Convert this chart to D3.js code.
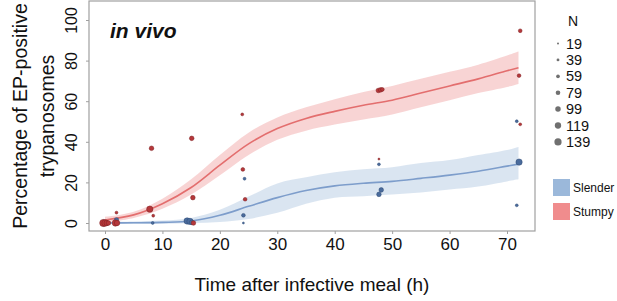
<!DOCTYPE html>
<html><head><meta charset="utf-8">
<script src="https://cdn.jsdelivr.net/npm/d3@7"></script>
<style>body{margin:0;background:#fff}svg{display:block}text{font-family:"Liberation Sans",Arial,Helvetica,sans-serif;fill:#111}</style>
</head><body><svg id="c" width="617" height="301"></svg>
<script>
// ---- data ----
const xTicks = [0, 10, 20, 30, 40, 50, 60, 70];
const yTicks = [0, 20, 40, 60, 80, 100];
const sizeLegend = [19, 39, 59, 79, 99, 119, 139];
const groups = ["Slender", "Stumpy"];

// fitted curves (time, fit, lower, upper)
const stumpyFitT  = [0, 5, 10, 15, 20, 25, 30, 35, 40, 45, 50, 55, 60, 65, 70, 72];
const stumpyFit   = [1.5, 4, 9.5, 17.5, 28.5, 39, 46.5, 51.5, 55, 58, 60.5, 64, 67.5, 71, 75, 76.5];
const stumpyLo    = [0.3, 2.5, 7, 14, 23.5, 33.5, 41, 45.5, 48.5, 51, 53.5, 57, 60.5, 64, 67, 68.5];
const stumpyHi    = [3, 5.5, 12, 21.5, 33.5, 44.5, 52, 57, 61, 64.5, 67.5, 71, 74.5, 78, 82.5, 84.5];

const slenderFitT = [0, 5, 10, 15, 20, 25, 30, 35, 40, 45, 50, 55, 60, 65, 70, 72];
const slenderFit  = [0, 0.1, 0.3, 1, 3.8, 8.2, 12.5, 16, 18.3, 19.6, 20.5, 22, 23.6, 25.5, 28, 29];
const slenderLo   = [-0.5, -0.5, -0.4, 0, 0.5, 2, 5, 9.5, 12.5, 13.2, 14, 15, 16.5, 18, 20.5, 21.5];
const slenderHi   = [0.5, 0.8, 1.2, 2.5, 6.5, 13, 19.5, 22.5, 25, 26.5, 27.5, 29.5, 31, 33.5, 36, 37.5];

// observed points
const stumpyT = [-0.3, 0, 0.3, 0.6, 1.8, 2.1, 2, 7.8, 8.1, 8.4, 15.1, 15.3, 15.4, 23.9, 24, 24.4, 47.6, 48, 48.3, 47.7, 72.3, 72.1, 72.3];
const stumpyV = [0, 0, 0, 0, 0, 0, 5.1, 6.8, 36.8, 3.6, 41.7, 12.5, 0, 53.5, 26.4, 11.7, 65.3, 65.6, 65.8, 31.5, 94.7, 72.6, 48.6];
const stumpyN = [139, 119, 99, 79, 119, 99, 39, 119, 79, 39, 79, 79, 79, 39, 59, 59, 79, 79, 59, 19, 59, 59, 39];

const slenderT = [-0.2, 0.2, 2, 2.1, 8.3, 14.3, 14.8, 15.1, 24.1, 24.1, 24.3, 47.7, 48.1, 47.7, 71.7, 71.7, 72.1];
const slenderV = [0, 0, 1.5, 0, 0, 1, 0.8, 0.3, 3.8, 0, 21.8, 28.9, 16.3, 14.1, 50.1, 8.7, 30];
const slenderN = [119, 99, 79, 59, 39, 119, 119, 79, 59, 19, 39, 39, 79, 79, 39, 39, 119];

// ---- drawing ----
const svg = d3.select("#c");
const L = 89, R = 535, T = 1, B = 231;
const x = d3.scaleLinear().domain([0, 70]).range([105, 507]);
const y = d3.scaleLinear().domain([0, 100]).range([223, 20]);
const r = d3.scaleLinear().domain([19, 139]).range([1.0, 3.6]);

const col = {
  Slender: {band: "#d6e2f0", line: "#7d9dcb", pt: "#4a6b9c", ptStroke: "#2f4a74", key: "#9bb8da"},
  Stumpy:  {band: "#f7cfcf", line: "#e36e6e", pt: "#b5373a", ptStroke: "#7d2022", key: "#f08c8d"}
};

function curveData(t, f, lo, hi) { return t.map((d, i) => ({t: d, f: f[i], lo: lo[i], hi: hi[i]})); }
const fits = {
  Slender: curveData(slenderFitT, slenderFit, slenderLo, slenderHi),
  Stumpy: curveData(stumpyFitT, stumpyFit, stumpyLo, stumpyHi)
};
const crv = d3.curveCatmullRom.alpha(0.5);
const area = d3.area().x(d => x(d.t)).y0(d => y(d.lo)).y1(d => y(d.hi)).curve(crv);
const line = d3.line().x(d => x(d.t)).y(d => y(d.f)).curve(crv);

const plot = svg.append("g");
groups.forEach(g => {
  plot.append("path").datum(fits[g]).attr("d", area).attr("fill", col[g].band).attr("opacity", 0.9);
});
groups.forEach(g => {
  plot.append("path").datum(fits[g]).attr("d", line).attr("fill", "none").attr("stroke", col[g].line).attr("stroke-width", 1.6);
});

function pts(g, T_, V_, N_) {
  const data = T_.map((t, i) => ({t, v: V_[i], n: N_[i]}));
  plot.append("g").selectAll("circle").data(data).join("circle")
    .attr("cx", d => x(d.t)).attr("cy", d => y(d.v)).attr("r", d => r(d.n))
    .attr("fill", col[g].pt).attr("stroke", col[g].ptStroke).attr("stroke-width", 0.5);
}
pts("Slender", slenderT, slenderV, slenderN);
pts("Stumpy", stumpyT, stumpyV, stumpyN);

// panel box
svg.append("rect").attr("x", L).attr("y", T).attr("width", R - L).attr("height", B - T)
  .attr("fill", "none").attr("stroke", "#a0a0a0").attr("stroke-width", 1.2);

// axes
const xa = svg.append("g").attr("transform", `translate(0,${B})`)
  .call(d3.axisBottom(x).tickValues(xTicks).tickSize(3).tickPadding(4));
xa.select(".domain").remove();
xa.selectAll("line").attr("stroke", "#a0a0a0");
xa.selectAll("text").attr("font-size", 17).style("font-family", "Liberation Sans, Arial, sans-serif").attr("fill", "#111");

const ya = svg.append("g").attr("transform", `translate(${L},0)`)
  .call(d3.axisLeft(y).tickValues(yTicks).tickSize(3));
ya.select(".domain").remove();
ya.selectAll("line").attr("stroke", "#a0a0a0");
ya.selectAll("text").attr("font-size", 16).style("font-family", "Liberation Sans, Arial, sans-serif").attr("fill", "#111")
  .attr("x", 0).attr("dy", 0).attr("text-anchor", "middle")
  .attr("transform", "translate(-12,0) rotate(-90)");

// titles
svg.append("text").attr("transform", "translate(27,116) rotate(-90)").attr("text-anchor", "middle")
  .attr("font-size", 19.5).text("Percentage of EP-positive");
svg.append("text").attr("transform", "translate(54,116) rotate(-90)").attr("text-anchor", "middle")
  .attr("font-size", 19.5).text("trypanosomes");
svg.append("text").attr("x", 312).attr("y", 291).attr("text-anchor", "middle")
  .attr("font-size", 19).text("Time after infective meal (h)");
svg.append("text").attr("x", 110).attr("y", 38).attr("font-size", 21)
  .attr("font-weight", "bold").attr("font-style", "italic").text("in vivo");

// size legend
const lg = svg.append("g");
lg.append("text").attr("x", 573).attr("y", 26).attr("text-anchor", "middle").attr("font-size", 14).text("N");
sizeLegend.forEach((n, i) => {
  const cy = 43.5 + i * 16.4;
  lg.append("circle").attr("cx", 558).attr("cy", cy).attr("r", r(n)).attr("fill", "#707070");
  lg.append("text").attr("x", 566).attr("y", cy + 5).attr("font-size", 14.5).text(n);
});
// fill legend
groups.forEach((g, i) => {
  const yy = 179 + i * 24;
  lg.append("rect").attr("x", 553).attr("y", yy).attr("width", 17).attr("height", 17).attr("fill", col[g].key);
  lg.append("text").attr("x", 573).attr("y", yy + 13).attr("font-size", 12).text(g);
});
</script></body></html>
